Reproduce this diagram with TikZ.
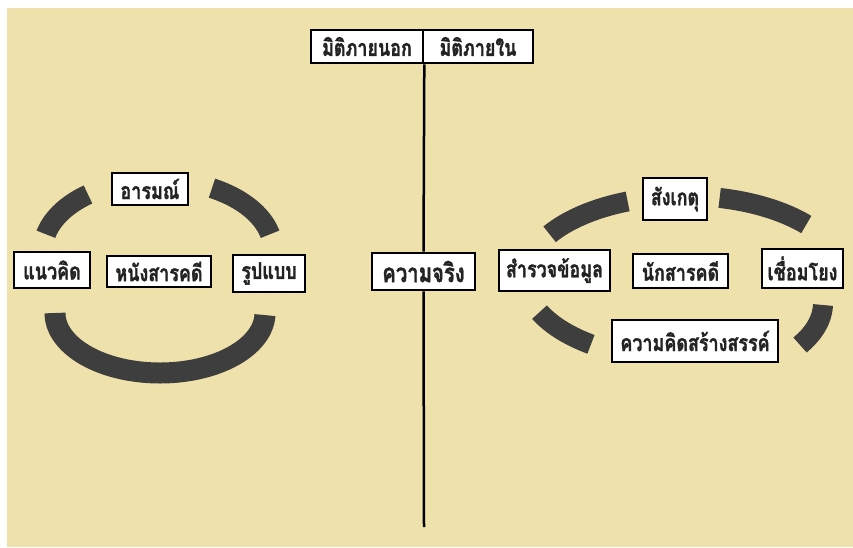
\documentclass[tikz,border=0pt]{standalone}
\usepackage{fontspec}
\newfontfamily\thai[Script=Thai,FakeStretch=0.78,FakeBold=1.3]{Loma}
\definecolor{bgbeige}{RGB}{238,225,172}
\definecolor{arcgray}{RGB}{62,62,62}
\definecolor{txtgray}{RGB}{35,35,35}
\tikzset{
  tbox/.style={draw=black, line width=2.6pt, fill=white, inner sep=0pt,
    text=txtgray, font=\thai\bfseries\fontsize{23}{25}\selectfont},
  ring/.style={draw=arcgray, line width=20pt, line join=round},
  axis/.style={draw=black, line width=2.5pt}
}
\begin{document}
\begin{tikzpicture}[x=1pt,y=-1pt]
\useasboundingbox (0,0) rectangle (853,547);
\fill[bgbeige] (7,8) rectangle (853,547);

% left ring
\draw[ring] plot[domain=127.5:167,samples=40] ({158+115*cos(\x)},{250-70*sin(\x)});
\draw[ring] plot[domain=13:62,samples=40] ({158+115*cos(\x)},{250-70*sin(\x)});
\draw[ring, line width=21pt] plot[domain=180:358,samples=80] ({160+105*cos(\x)},{313-60*sin(\x)});

% right ring
\draw[ring] plot[domain=111:147.8,samples=40] ({685+160*cos(\x)},{278-82*sin(\x)});
\draw[ring] plot[domain=40.7:77.5,samples=40] ({685+160*cos(\x)},{278-82*sin(\x)});
\draw[ring] plot[domain=204.6:234,samples=40] ({685+160*cos(\x)},{278-82*sin(\x)});
\draw[ring] (823,305) .. controls (822,322) and (812,335) .. (800,345);

% top boxes
\node[tbox, minimum width=112pt, minimum height=33pt] (outer) at (367,46.5) {มิติภายนอก};
\node[tbox, minimum width=110pt, minimum height=33pt] (inner) at (478,46.5) {มิติภายใน};
\node[tbox, minimum width=103pt, minimum height=37pt, font=\thai\bfseries\fontsize{26}{28}\selectfont] (truth) at (423.5,271.5) {ความจริง};
\coordinate (axend) at (424,527);
\draw[axis] (outer.south east) -- (truth.north);
\draw[axis] (truth.south) -- (axend);

% left cluster
\node[tbox, minimum width=76pt, minimum height=32pt] (arom) at (150,189) {อารมณ์};
\node[tbox, minimum width=76pt, minimum height=36pt] (naew) at (52,270) {แนวคิด};
\node[tbox, minimum width=104pt, minimum height=31pt] (nang) at (159,271.5) {หนังสารคดี};
\node[tbox, minimum width=72pt, minimum height=37pt] (roop) at (269,273.5) {รูปแบบ};

% right cluster
\node[tbox, minimum width=64pt, minimum height=42pt] (sang) at (675,199) {สังเกตุ};
\node[tbox, minimum width=111pt, minimum height=41pt] (samruat) at (554.5,270.5) {สำรวจข้อมูล};
\node[tbox, minimum width=95pt, minimum height=34pt] (nak) at (680.5,271) {นักสารคดี};
\node[tbox, minimum width=81pt, minimum height=39pt] (cheum) at (802.5,268.5) {เชื่อมโยง};
\node[tbox, minimum width=166pt, minimum height=42pt] (khwam) at (695,341) {ความคิดสร้างสรรค์};
\end{tikzpicture}
\end{document}
